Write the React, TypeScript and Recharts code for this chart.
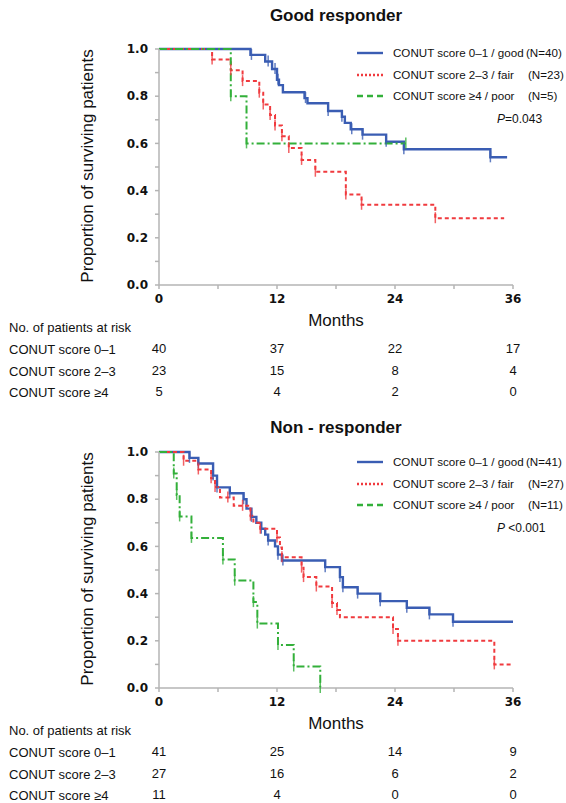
import React from "react";
import { ComposedChart, Line, Scatter, XAxis, YAxis } from "recharts";

// survival steps [month, proportion]
const goodTopCurve: [number, number][] = [
  [0, 1], [9.3, 0.975], [10.8, 0.947], [11.5, 0.915], [12.0, 0.87], [12.2, 0.847], [12.6, 0.817],
  [14.8, 0.792], [15.1, 0.77], [17.2, 0.737], [18.6, 0.713], [18.9, 0.687], [19.5, 0.66],
  [20.7, 0.637], [23.1, 0.607], [24.9, 0.575], [33.7, 0.541], [35.4, 0.541],
];
const fairTopCurve: [number, number][] = [
  [0, 1], [5.4, 0.956], [7.3, 0.91], [8.5, 0.864], [10.2, 0.815], [10.6, 0.765], [11.3, 0.72],
  [11.8, 0.676], [12.5, 0.63], [13.2, 0.58], [14.5, 0.53], [15.9, 0.48], [19.0, 0.383],
  [20.6, 0.34], [28.1, 0.283], [35.1, 0.283],
];
const poorTopCurve: [number, number][] = [
  [0, 1], [7.3, 0.8], [8.9, 0.6], [25.1, 0.6],
];

const goodTopCensor = [9.4, 11.1, 11.8, 12.1, 14.9, 17.2, 18.6, 19.6, 20.7, 23.1, 24.9, 33.7];
const fairTopCensor = [5.4, 7.3, 8.5, 10.2, 10.6, 11.3, 11.8, 12.5, 13.2, 14.5, 15.9, 19.0, 20.6, 28.1];
const poorTopCensor = [7.3, 8.9, 25.1];

const goodBottomCurve: [number, number][] = [
  [0, 1], [3.1, 0.975], [4.0, 0.951], [5.5, 0.9], [5.9, 0.85], [7.2, 0.825], [8.6, 0.8],
  [8.9, 0.76], [9.4, 0.725], [9.9, 0.7], [10.4, 0.675], [10.8, 0.65], [11.1, 0.625],
  [11.8, 0.6], [12.1, 0.565], [12.5, 0.54], [16.9, 0.512], [18.4, 0.47], [18.7, 0.427],
  [20.2, 0.4], [22.5, 0.368], [25.2, 0.34], [27.5, 0.312], [29.9, 0.281], [36, 0.281],
];
const fairBottomCurve: [number, number][] = [
  [0, 1], [2.5, 0.963], [4.0, 0.926], [5.3, 0.889], [5.7, 0.852], [6.2, 0.807], [7.6, 0.772],
  [9.3, 0.73], [9.6, 0.7], [10.3, 0.675], [12.0, 0.638], [12.3, 0.595], [12.5, 0.554],
  [14.5, 0.51], [14.7, 0.47], [16.0, 0.43], [17.6, 0.36], [18.1, 0.33], [18.4, 0.3],
  [23.8, 0.25], [24.3, 0.2], [34.1, 0.1], [36, 0.1],
];
const poorBottomCurve: [number, number][] = [
  [0, 1], [1.5, 0.909], [1.8, 0.818], [2.1, 0.727], [3.3, 0.636], [6.5, 0.545], [7.7, 0.455],
  [9.6, 0.364], [10.0, 0.273], [12.1, 0.182], [13.7, 0.091], [16.4, 0],
];

const goodBottomCensor = [3.1, 4.0, 5.5, 5.9, 7.2, 8.6, 9.4, 10.4, 11.1, 12.1, 12.6, 16.9, 18.4, 18.7, 20.2, 22.5, 25.2, 27.5, 29.9];
const fairBottomCensor = [2.5, 4.0, 5.3, 5.7, 7.0, 8.5, 9.3, 10.3, 12.0, 12.5, 14.5, 14.7, 16.0, 17.6, 18.1, 23.8, 24.3, 34.1];
const poorBottomCensor = [1.5, 1.8, 2.1, 3.3, 6.5, 7.7, 9.6, 10.0, 12.1, 13.7, 16.4];

const riskMonths = [0, 12, 24, 36];
const riskLabels = ["CONUT score 0\u20131", "CONUT score 2\u20133", "CONUT score \u22654"];
const riskTop = [
  [40, 37, 22, 17],
  [23, 15, 8, 4],
  [5, 4, 2, 0],
];
const riskBottom = [
  [41, 25, 14, 9],
  [27, 16, 6, 2],
  [11, 4, 0, 0],
];

const legendTop = [
  { name: "CONUT score 0\u20131 / good", n: "(N=40)" },
  { name: "CONUT score 2\u20133 / fair", n: "(N=23)" },
  { name: "CONUT score \u22654 / poor", n: "(N=5)" },
];
const legendBottom = [
  { name: "CONUT score 0\u20131 / good", n: "(N=41)" },
  { name: "CONUT score 2\u20133 / fair", n: "(N=27)" },
  { name: "CONUT score \u22654 / poor", n: "(N=11)" },
];

const xTicks = [0, 6, 12, 18, 24, 30, 36];
const yTicks = [0, 0.1, 0.2, 0.3, 0.4, 0.5, 0.6, 0.7, 0.8, 0.9, 1.0];

const styles = [
  { color: "#3a5db3", width: 2.4, dash: undefined, legendDash: undefined },
  { color: "#f03a3e", width: 2, dash: "4 3", legendDash: "2 2" },
  { color: "#33b03a", width: 2, dash: "8 3 2 3", legendDash: "6 4" },
];

const PLOT_LEFT = 159;
const PLOT_RIGHT = 513;
const W = 566;
const SANS = "'Liberation Sans', Arial, sans-serif";
const AXIS_FONT = "'DejaVu Sans', Verdana, sans-serif";

function stepAt(pts: [number, number][], t: number) {
  let s = pts[0][1];
  for (const [pt, ps] of pts) if (pt <= t) s = ps;
  return s;
}

const xPos = (m: number) => PLOT_LEFT + (m / 36) * (PLOT_RIGHT - PLOT_LEFT);

function KMPanel({ top, title, titleShift, curves, censors, legend, pText, risk, legendShift }: any) {
  return (
    <>
      <div style={{ position: "absolute", left: 0, width: W, top: top + 6 + titleShift, textAlign: "center", paddingLeft: 106, boxSizing: "border-box", fontFamily: SANS, fontWeight: "bold", fontSize: 17, color: "#111" }}>
        {title}
      </div>
      <div style={{ position: "absolute", left: 0, top: top }}>
        <ComposedChart width={W} height={310} margin={{ top: 49, right: W - PLOT_RIGHT, left: PLOT_LEFT - 50, bottom: 0 }}>
          <XAxis
            dataKey="t"
            type="number"
            domain={[0, 36]}
            ticks={xTicks}
            tickFormatter={(v: number) => (v % 12 === 0 ? String(v) : "")}
            height={25}
            tickSize={4}
            tickMargin={5}
            stroke="#b4b4b4"
            strokeWidth={1.5}
            tick={{ fill: "#111", fontFamily: AXIS_FONT, fontWeight: "bold", fontSize: 12 }}
          />
          <YAxis
            type="number"
            domain={[0, 1]}
            ticks={yTicks}
            tickFormatter={(v: number) => (Math.round(v * 10) % 2 === 0 ? v.toFixed(1) : "")}
            width={50}
            tickSize={4}
            tickMargin={7}
            stroke="#b4b4b4"
            strokeWidth={1.5}
            tick={{ fill: "#111", fontFamily: AXIS_FONT, fontWeight: "bold", fontSize: 12 }}
          />
          {curves.map((pts: [number, number][], i: number) => (
            <Line
              key={"l" + i}
              data={pts.map(([t, s]) => ({ t, s }))}
              dataKey="s"
              type="stepAfter"
              stroke={styles[i].color}
              strokeWidth={styles[i].width}
              strokeDasharray={styles[i].dash}
              dot={false}
              isAnimationActive={false}
            />
          ))}
          {censors.map((times: number[], i: number) => (
            <Scatter
              key={"c" + i}
              data={times.map((t) => ({ t, s: stepAt(curves[i], t) }))}
              dataKey="s"
              isAnimationActive={false}
              shape={(p: any) => (
                <line x1={p.cx} x2={p.cx} y1={p.cy - 6} y2={p.cy + 5} stroke={styles[i].color} strokeWidth={1.5} opacity={0.8} />
              )}
            />
          ))}
        </ComposedChart>
      </div>
      {/* legend */}
      {legend.map((item: any, i: number) => (
        <div key={"g" + i} style={{ position: "absolute", top: top + 46 + legendShift + i * 21.7, left: 357, height: 14, fontFamily: SANS, fontSize: 11.6, color: "#111", whiteSpace: "nowrap" }}>
          <svg width={27} height={14} style={{ position: "absolute", left: 0, top: 0 }}>
            <line x1={0} x2={26} y1={7} y2={7} stroke={styles[i].color} strokeWidth={2.4} strokeDasharray={styles[i].legendDash} />
          </svg>
          <span style={{ position: "absolute", left: 36, top: 0 }}>{item.name}</span>
          <span style={{ position: "absolute", left: i === 0 ? 169 : 171, top: 0 }}>{item.n}</span>
        </div>
      ))}
      <div style={{ position: "absolute", top: top + 112 + legendShift, left: 497, fontFamily: SANS, fontSize: 12, color: "#111", whiteSpace: "nowrap" }}>
        <i>P</i>{pText}
      </div>
      {/* y label */}
      <div style={{ position: "absolute", left: 88 - 150, top: top + 167 - 11, width: 300, textAlign: "center", transform: "rotate(-90deg)", fontFamily: SANS, fontSize: 17, color: "#111", whiteSpace: "nowrap" }}>
        Proportion of surviving patients
      </div>
      <div style={{ position: "absolute", left: 0, width: W, paddingLeft: 106, boxSizing: "border-box", top: top + 311, textAlign: "center", fontFamily: SANS, fontSize: 17, color: "#111" }}>
        Months
      </div>
      <div style={{ position: "absolute", left: 9, top: top + 320, fontFamily: SANS, fontSize: 13, color: "#111", whiteSpace: "nowrap" }}>
        No. of patients at risk
      </div>
      {risk.map((row: number[], r: number) => (
        <React.Fragment key={"r" + r}>
          <div style={{ position: "absolute", left: 9, top: top + 342 + r * 21.5, fontFamily: SANS, fontSize: 13, lineHeight: "15px", color: "#111", whiteSpace: "nowrap" }}>
            {riskLabels[r]}
          </div>
          {row.map((v: number, k: number) => (
            <div key={k} style={{ position: "absolute", left: xPos(riskMonths[k]) - 20, width: 40, textAlign: "center", top: top + 341 + r * 21.5, fontFamily: SANS, fontSize: 13, lineHeight: "15px", color: "#111" }}>
              {v}
            </div>
          ))}
        </React.Fragment>
      ))}
    </>
  );
}

export default function App() {
  return (
    <div style={{ position: "absolute", left: 0, top: 0, width: W, height: 803, background: "#fff", overflow: "hidden" }}>
      <KMPanel
        top={0}
        title="Good responder"
        titleShift={0}
        curves={[goodTopCurve, fairTopCurve, poorTopCurve]}
        censors={[goodTopCensor, fairTopCensor, poorTopCensor]}
        legend={legendTop}
        pText="=0.043"
        risk={riskTop}
        legendShift={0}
      />
      <KMPanel
        top={403}
        title="Non - responder"
        titleShift={9}
        curves={[goodBottomCurve, fairBottomCurve, poorBottomCurve]}
        censors={[goodBottomCensor, fairBottomCensor, poorBottomCensor]}
        legend={legendBottom}
        pText=" <0.001"
        risk={riskBottom}
        legendShift={6}
      />
    </div>
  );
}
